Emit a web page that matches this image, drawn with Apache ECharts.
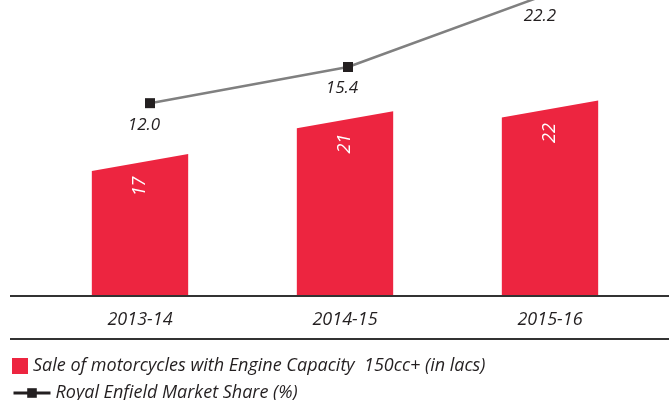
<!DOCTYPE html>
<html lang="en">
<head>
	<meta charset="UTF-8">
	<title>Royal Enfield</title>
	<style>
		html, body { margin: 0; padding: 0; background: #fff; }
		#main { width: 669px; height: 400px; }
	</style>
</head>
<body>
	<div id="main"></div>
</body>
<script src="https://cdn.jsdelivr.net/npm/echarts@6/dist/echarts.min.js"></script>
<script>
// data
var years = ['2013-14', '2014-15', '2015-16'];
var salesValues = [17, 21, 22];
var shareValues = [12.0, 15.4, 22.2];
var salesName = 'Sale of motorcycles with Engine Capacity  150cc+ (in lacs)';
var shareName = 'Royal Enfield Market Share (%)';

var red = '#ed2540';
var ink = '#231f20';
var font = '"Open Sans", sans-serif';
var barMin = 4.5;

var chart = echarts.init(document.getElementById('main'));

// bar with a slanted top, drawn through the axis scales
function renderSlantBar(params, api) {
	var i = api.value(0);
	var top = api.coord([i, api.value(1)]);
	var base = api.coord([i, barMin]);
	var w = api.size([1, 0])[0] * 0.47;
	var slant = 8.5;
	var x0 = top[0] - w / 2, x1 = top[0] + w / 2;
	return {
		type: 'group',
		children: [
			{
				type: 'polygon',
				shape: { points: [[x0, top[1] + slant], [x1, top[1] - slant], [x1, base[1]], [x0, base[1]]] },
				style: { fill: red }
			},
			{
				type: 'text',
				x: top[0],
				y: top[1] + 24,
				rotation: Math.PI / 2,
				style: {
					text: String(api.value(1)),
					fill: '#fff',
					font: 'italic 18px ' + font,
					align: 'center',
					verticalAlign: 'middle'
				}
			}
		]
	};
}

var option = {
	backgroundColor: '#fff',
	animation: false,
	grid: [
		{ left: 37.5, right: 16.5, top: 0, bottom: 104 },
		{ left: 51, width: 594, top: 0, bottom: 104 }
	],
	xAxis: [
		{
			type: 'category',
			gridIndex: 0,
			data: years,
			axisLine: { show: false },
			axisTick: { show: false },
			axisLabel: { margin: 15, fontSize: 18, fontStyle: 'italic', color: ink, fontFamily: font }
		},
		{
			type: 'category',
			gridIndex: 1,
			data: years,
			show: false
		}
	],
	yAxis: [
		{ type: 'value', gridIndex: 0, min: barMin, max: 32.2, show: false, splitLine: { show: false } },
		{ type: 'value', gridIndex: 1, min: -6.13, max: 21.7, show: false, splitLine: { show: false } }
	],
	legend: [
		{
			data: [{ name: salesName, icon: 'rect' }],
			left: 7,
			top: 352,
			itemWidth: 16,
			itemHeight: 16,
			itemGap: 0,
			textStyle: { fontSize: 18, fontStyle: 'italic', color: ink, fontFamily: font }
		},
		{
			data: [{ name: shareName, lineStyle: { color: ink, width: 3 }, itemStyle: { color: ink } }],
			left: 7,
			top: 379,
			itemWidth: 37,
			itemHeight: 12,
			textStyle: { fontSize: 18, fontStyle: 'italic', color: ink, fontFamily: font }
		}
	],
	graphic: [
		{ type: 'line', shape: { x1: 10, y1: 296, x2: 669, y2: 296 }, style: { stroke: '#333', lineWidth: 2 }, z: 10 },
		{ type: 'line', shape: { x1: 10, y1: 339, x2: 669, y2: 339 }, style: { stroke: '#333', lineWidth: 2 } }
	],
	series: [
		{
			name: salesName,
			type: 'custom',
			xAxisIndex: 0,
			yAxisIndex: 0,
			itemStyle: { color: red },
			renderItem: renderSlantBar,
			data: salesValues.map(function (v, i) { return [i, v]; })
		},
		{
			name: shareName,
			type: 'line',
			xAxisIndex: 1,
			yAxisIndex: 1,
			clip: false,
			symbol: 'rect',
			symbolSize: 10,
			itemStyle: { color: ink },
			lineStyle: { color: '#808080', width: 2.5 },
			label: {
				show: true,
				position: 'bottom',
				distance: 8,
				offset: [-6, 0],
				fontSize: 17,
				fontStyle: 'italic',
				color: ink,
				fontFamily: font,
				formatter: function (p) { return p.value.toFixed(1); }
			},
			data: shareValues
		}
	]
};

chart.setOption(option);
</script>
</html>
